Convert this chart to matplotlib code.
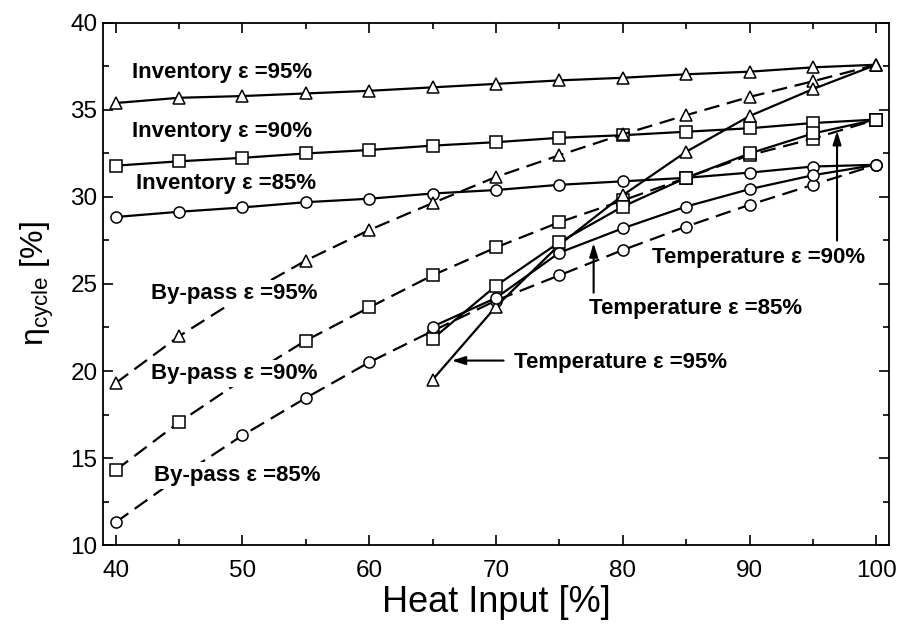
import matplotlib
matplotlib.use("Agg")
import matplotlib.pyplot as plt

# heat input (%)
heat = [40, 45, 50, 55, 60, 65, 70, 75, 80, 85, 90, 95, 100]
heat_t = [65, 70, 75, 80, 85, 90, 95, 100]

# cycle efficiency (%) - inventory control
inv95 = [35.4, 35.7, 35.8, 35.95, 36.1, 36.3, 36.5, 36.7, 36.85, 37.05, 37.2, 37.45, 37.6]
inv90 = [31.8, 32.05, 32.25, 32.5, 32.7, 32.95, 33.15, 33.4, 33.55, 33.75, 33.95, 34.25, 34.45]
inv85 = [28.85, 29.15, 29.4, 29.7, 29.9, 30.2, 30.4, 30.7, 30.9, 31.1, 31.4, 31.75, 31.85]

# by-pass control
bp95 = [19.3, 22.0, 24.3, 26.35, 28.1, 29.65, 31.15, 32.4, 33.6, 34.7, 35.75, 36.65, 37.6]
bp90 = [14.3, 17.05, 19.5, 21.75, 23.65, 25.5, 27.1, 28.55, 29.8, 31.1, 32.4, 33.35, 34.45]
bp85 = [11.3, 13.9, 16.3, 18.45, 20.5, 22.3, 24.05, 25.5, 26.95, 28.3, 29.55, 30.7, 31.85]

# temperature control
t95 = [19.5, 23.7, 27.25, 30.1, 32.6, 34.65, 36.2, 37.6]
t90 = [21.85, 24.9, 27.4, 29.45, 31.1, 32.5, 33.65, 34.45]
t85 = [22.55, 24.2, 26.8, 28.2, 29.45, 30.45, 31.25, 31.85]

plt.rcParams["font.family"] = ["Liberation Sans", "DejaVu Sans"]
plt.rcParams["mathtext.fontset"] = "custom"
plt.rcParams["mathtext.rm"] = "Liberation Sans"

fig = plt.figure(figsize=(9.01, 6.29), dpi=100)
ax = fig.add_axes([0.1143, 0.1335, 0.8724, 0.83])

mk = dict(mfc="white", mec="black", mew=1.1, ms=8, color="black", lw=1.6)
dash = dict(dashes=(7, 3.5))

ax.plot(heat, inv95, marker="^", **mk)
ax.plot(heat, inv90, marker="s", **mk)
ax.plot(heat, inv85, marker="o", **mk)
ax.plot(heat, bp95, marker="^", **mk, **dash)
ax.plot(heat, bp90, marker="s", **mk, **dash)
ax.plot(heat, bp85, marker="o", **mk, **dash)
ax.plot(heat_t, t95, marker="^", **mk)
ax.plot(heat_t, t90, marker="s", **mk)
ax.plot(heat_t, t85, marker="o", **mk)

txt = dict(fontsize=16, fontweight="bold", va="center", ha="left")
box = dict(facecolor="white", edgecolor="none", pad=2)
ax.text(41.3, 37.15, "Inventory ε =95%", **txt)
ax.text(41.3, 33.75, "Inventory ε =90%", **txt)
ax.text(41.6, 30.8, "Inventory ε =85%", **txt)
ax.text(42.8, 24.45, "By-pass ε =95%", bbox=box, zorder=5, **txt)
ax.text(42.8, 19.85, "By-pass ε =90%", bbox=box, zorder=5, **txt)
ax.text(43.0, 14.0, "By-pass ε =85%", bbox=box, zorder=5, **txt)

arrow = dict(arrowstyle="-|>,head_length=0.8,head_width=0.25", color="black", lw=1.5,
             shrinkA=0, shrinkB=0)
ax.annotate("", xy=(66.5, 20.6), xytext=(70.6, 20.6), arrowprops=arrow)
ax.text(71.4, 20.47, "Temperature ε =95%", **txt)
ax.annotate("", xy=(77.7, 27.35), xytext=(77.7, 24.5), arrowprops=arrow)
ax.text(77.3, 23.58, "Temperature ε =85%", **txt)
ax.annotate("", xy=(96.9, 33.8), xytext=(96.9, 27.5), arrowprops=arrow)
ax.text(82.3, 26.53, "Temperature ε =90%", **txt)

ax.set_xlim(39, 101)
ax.set_ylim(10, 40)
ax.set_xticks([40, 50, 60, 70, 80, 90, 100])
ax.set_xticks([45, 55, 65, 75, 85, 95], minor=True)
ax.set_yticks([10, 15, 20, 25, 30, 35, 40])
ax.set_yticks([12.5, 17.5, 22.5, 27.5, 32.5, 37.5], minor=True)
ax.tick_params(which="both", direction="in", top=True, right=True, width=1.2, labelsize=17.5)
ax.tick_params(which="major", length=7)
ax.tick_params(which="minor", length=4)
ax.tick_params(axis="x", pad=11)
ax.tick_params(axis="y", pad=4)
for s in ax.spines.values():
    s.set_linewidth(1.3)

ax.set_xlabel("Heat Input [%]", fontsize=26, labelpad=2)
ax.set_ylabel("η$_{\\mathrm{cycle}}$ [%]", fontsize=23, labelpad=10)

fig.savefig("out.png", dpi=100)
